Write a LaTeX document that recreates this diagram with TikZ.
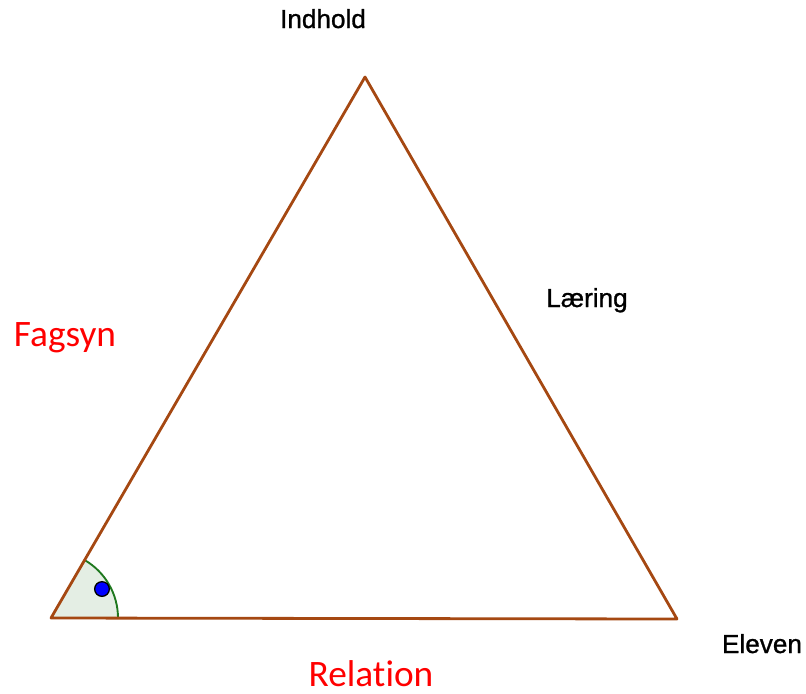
\documentclass[tikz,border=0pt]{standalone}
\usepackage{fontspec}
\usetikzlibrary{calc}
\setmainfont{Liberation Sans}
\newfontfamily\labfont[FakeBold=1]{Liberation Sans}
\newfontfamily\calib[Ligatures=NoCommon]{Carlito}
\definecolor{tribrown}{RGB}{165,72,18}
\definecolor{arcgreen}{RGB}{30,120,30}
\definecolor{anglefill}{RGB}{228,238,228}
\definecolor{dotblue}{RGB}{0,0,255}
\tikzset{
  side/.style={draw=tribrown, line width=2.1pt, line join=round},
  blacklabel/.style={font=\labfont\fontsize{19.6}{21}\selectfont, text=black, anchor=base, inner sep=0pt},
  redlabel/.style={font=\calib\fontsize{28}{30}\selectfont, text=red, anchor=base, inner sep=0pt},
}
\begin{document}
\begin{tikzpicture}[x=0.75pt,y=-0.75pt]
\useasboundingbox (0,0) rectangle (806,693);
\coordinate (A) at (51,618);
\coordinate (B) at (365,77);
\coordinate (C) at (677,619);
\coordinate (E) at (118,618);
% angle sector
\fill[anglefill] (A) -- (E) arc[start angle=0, end angle=-59.9, radius=67] -- cycle;
\draw[arcgreen, line width=1.4pt] (E) arc[start angle=0, end angle=-59.9, radius=67];
\draw[side] (A) -- (B) -- (C) -- cycle;
\node[circle, fill=dotblue, draw=black, line width=1pt, minimum size=11pt, inner sep=0pt] (dot) at (102,589) {};
\node[blacklabel] (indhold) at (323,28) {Indhold};
\node[blacklabel] (laering) at (587,307) {Læring};
\node[blacklabel] (eleven) at (762,653) {Eleven};
\node[redlabel] (fagsyn) at (65,346) {Fagsyn};
\node[redlabel] (relation) at (371,686) {Relation};
\end{tikzpicture}
\end{document}
